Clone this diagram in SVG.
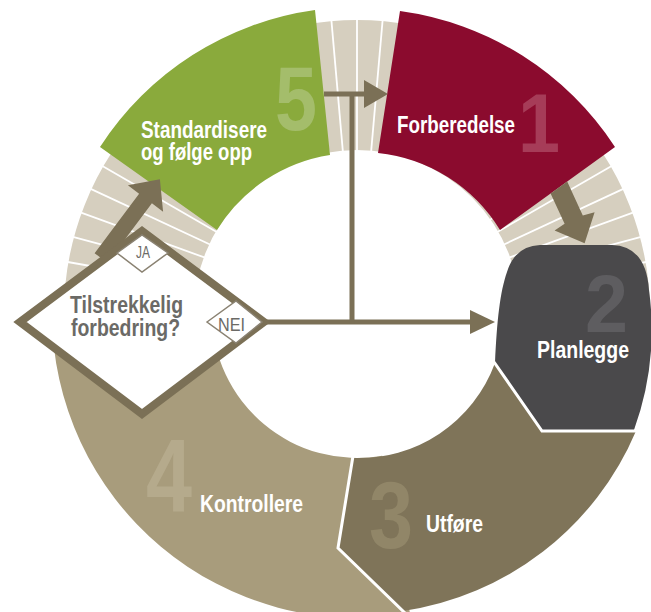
<svg xmlns="http://www.w3.org/2000/svg" xmlns:xlink="http://www.w3.org/1999/xlink" width="651" height="612" viewBox="0 0 651 612">
<style>
text{font-family:'Liberation Sans',Arial,sans-serif}
.lbl{font-weight:bold;font-size:23px;fill:#ffffff}
.num{font-weight:bold}
.q{font-weight:bold;font-size:23px;fill:#6b6a66}
.tag{fill:#6b6a66}
.arr{fill:#7b7056}
.ln{stroke:#7b7056;stroke-width:5;fill:none}
.sep{stroke:#ffffff;stroke-width:3;fill:none}
</style>
<defs>
<line id="st" x1="515" y1="313" x2="655" y2="313" stroke="#ffffff" stroke-width="1.8"/>
<clipPath id="cg"><path d="M100,147 A306,306 0 0 1 315,10 L330,155 A162,162 0 0 0 217,230 Z"/></clipPath>
</defs>
<rect width="651" height="612" fill="#ffffff"/>
<g id="ring">
<circle cx="357" cy="313" r="228" fill="none" stroke="#d6cfbf" stroke-width="130"/>
<use xlink:href="#st" transform="rotate(180 357 313)"/>
<use xlink:href="#st" transform="rotate(185 357 313)"/>
<use xlink:href="#st" transform="rotate(190 357 313)"/>
<use xlink:href="#st" transform="rotate(195 357 313)"/>
<use xlink:href="#st" transform="rotate(200 357 313)"/>
<use xlink:href="#st" transform="rotate(205 357 313)"/>
<use xlink:href="#st" transform="rotate(210 357 313)"/>
<use xlink:href="#st" transform="rotate(215 357 313)"/>
<use xlink:href="#st" transform="rotate(260 357 313)"/>
<use xlink:href="#st" transform="rotate(265 357 313)"/>
<use xlink:href="#st" transform="rotate(270 357 313)"/>
<use xlink:href="#st" transform="rotate(275 357 313)"/>
<use xlink:href="#st" transform="rotate(280 357 313)"/>
<use xlink:href="#st" transform="rotate(325 357 313)"/>
<use xlink:href="#st" transform="rotate(330 357 313)"/>
<use xlink:href="#st" transform="rotate(335 357 313)"/>
<use xlink:href="#st" transform="rotate(340 357 313)"/>
<use xlink:href="#st" transform="rotate(345 357 313)"/>
<use xlink:href="#st" transform="rotate(350 357 313)"/>
</g>
<g id="kontrollere">
<path d="M52,313 A305,305 0 0 0 410,613.4 L382.2,455.8 A145,145 0 0 1 212,313 Z" fill="#a89c7c"/>
<text class="num" x="146" y="512" font-size="104" fill="#b5aa8c" textLength="46" lengthAdjust="spacingAndGlyphs">4</text>
<text class="lbl" x="200" y="512" textLength="103" lengthAdjust="spacingAndGlyphs">Kontrollere</text>
</g>
<g id="utfore">
<path d="M353,458 L338,548 L403,611 A300,300 0 0 0 636,431 L542,431 L495,363 A145,145 0 0 1 353,458 Z" fill="#7f7459"/>
<text class="num" x="369" y="548" font-size="95" fill="#918668" textLength="44" lengthAdjust="spacingAndGlyphs">3</text>
<text class="lbl" x="426" y="532" textLength="57" lengthAdjust="spacingAndGlyphs">Utføre</text>
</g>
<g id="planlegge">
<path d="M495,363 C497,320 500,292 507,272 Q515,246 540,245 L612,245 Q646,246 649,290 A295,295 0 0 1 634,430 L542,430 Z" fill="#4a494b"/>
<text class="num" x="585" y="332" font-size="82" fill="#5e5d60" textLength="43" lengthAdjust="spacingAndGlyphs">2</text>
<text class="lbl" x="537" y="358" textLength="92" lengthAdjust="spacingAndGlyphs">Planlegge</text>
</g>
<g id="separators">
<polyline class="sep" points="353,456 338,548 406,614"/>
<polyline class="sep" points="494,362 542,431 640,431"/>
</g>
<g id="standardisere">
<path d="M100,147 A306,306 0 0 1 315,10 L330,155 A162,162 0 0 0 217,230 Z" fill="#8aaa3c"/>
<text class="num" x="275" y="130" font-size="90" fill="#a4bd6b" clip-path="url(#cg)" textLength="42" lengthAdjust="spacingAndGlyphs">5</text>
<text class="lbl" x="141" y="138" textLength="126" lengthAdjust="spacingAndGlyphs">Standardisere</text>
<text class="lbl" x="141" y="160" textLength="111" lengthAdjust="spacingAndGlyphs">og følge opp</text>
</g>
<g id="forberedelse">
<path d="M400,11 A306,306 0 0 1 615,147 L500,230 A163,163 0 0 0 378,153 Z" fill="#8b0b2e"/>
<text class="num" x="518" y="152" font-size="84" fill="#a63c58" textLength="42" lengthAdjust="spacingAndGlyphs">1</text>
<text class="lbl" x="397" y="133" textLength="118" lengthAdjust="spacingAndGlyphs">Forberedelse</text>
</g>
<g id="connectors">
<line class="ln" x1="265" y1="322" x2="474" y2="322"/>
<polygon class="arr" points="470,310 495,322 470,334"/>
<line class="ln" x1="352" y1="324" x2="352" y2="92"/>
<line class="ln" x1="324" y1="94" x2="368" y2="94"/>
<polygon class="arr" points="364,80 388,94 364,108"/>
<polygon class="arr" points="94.6,253.2 139.1,193.7 127.9,185.3 159.9,179.3 163.1,211.7 151.9,203.3 107.4,262.8"/>
<polygon class="arr" points="550.6,193.5 567.2,181.5 582.8,215.4 594.6,212.2 584.6,243.2 554.6,230.6 564.6,223.8"/>
</g>
<g id="decision">
<polygon points="20,322 142,231 264,322 142,414" fill="#ffffff" stroke="#7b7056" stroke-width="8" stroke-linejoin="miter"/>
<text class="q" x="70" y="313" textLength="113" lengthAdjust="spacingAndGlyphs">Tilstrekkelig</text>
<text class="q" x="71" y="336" textLength="109" lengthAdjust="spacingAndGlyphs">forbedring?</text>
</g>
<g id="ja">
<polygon points="117,253 142,235 168,253 142,272" fill="#ffffff" stroke="#8a8272" stroke-width="1.5"/>
<text class="tag" x="136" y="258" font-size="17" textLength="14" lengthAdjust="spacingAndGlyphs">JA</text>
</g>
<g id="nei">
<polygon points="207,322 236,301 262,322 236,343" fill="#ffffff" stroke="#8a8272" stroke-width="1.5"/>
<text class="tag" x="218" y="331" font-size="19" textLength="27" lengthAdjust="spacingAndGlyphs">NEI</text>
</g>
</svg>
